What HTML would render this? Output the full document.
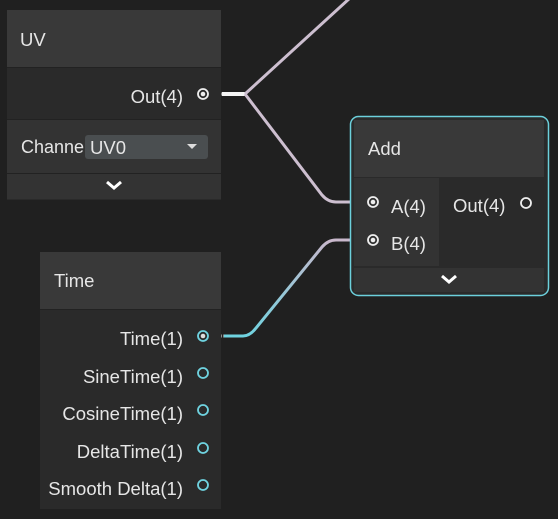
<!DOCTYPE html>
<html><head><meta charset="utf-8"><style>
html,body{margin:0;padding:0;background:#202020;}
svg{display:block;}
text{font-family:"Liberation Sans",sans-serif;font-size:18.5px;fill:#e6e6e6;}
</style></head><body>
<svg width="558" height="519" viewBox="0 0 558 519">
<defs>
<linearGradient id="g" x1="245" y1="336" x2="330" y2="240" gradientUnits="userSpaceOnUse">
<stop offset="0" stop-color="#6fd3e0"/><stop offset="1" stop-color="#c9b8cc"/>
</linearGradient>
</defs>
<rect width="558" height="519" fill="#202020"/>

<!-- wires -->
<path d="M213 94 H222" stroke="#8a8a8a" stroke-width="3" stroke-dasharray="1 1"/>
<path d="M222 94 H245" stroke="#f4f4f4" stroke-width="4"/>
<path d="M245 94 L350 -2" stroke="#cdbfd0" stroke-width="3" fill="none"/>
<path d="M245 94 L322 195 Q328 202 336 202 H350" stroke="#cdbfd0" stroke-width="3" fill="none"/>
<path d="M224 336 H243 Q250 336 256 328 L322 247 Q328 240 336 240 H350" stroke="url(#g)" stroke-width="3" fill="none"/>
<path d="M213 336 H224" stroke="#8a8a8a" stroke-width="3" stroke-dasharray="1 1"/>

<!-- UV node -->
<rect x="7" y="10" width="214" height="190" fill="#2a2a2a"/>
<rect x="7" y="10" width="214" height="57" fill="#393939"/>
<rect x="7" y="68" width="214" height="51" fill="#2a2a2a"/>
<rect x="7" y="120" width="214" height="53" fill="#333"/>
<rect x="7" y="174" width="214" height="25" fill="#333"/>
<line x1="7" y1="67.5" x2="221" y2="67.5" stroke="#222"/>
<line x1="7" y1="119.5" x2="221" y2="119.5" stroke="#222"/>
<line x1="7" y1="173.5" x2="221" y2="173.5" stroke="#222"/>
<text x="20" y="46">UV</text>
<text x="183" y="103" text-anchor="end">Out(4)</text>
<circle cx="203" cy="94" r="5" fill="none" stroke="#eee" stroke-width="1.8"/>
<circle cx="203" cy="94" r="2.3" fill="#eee"/>
<text x="21" y="153" textLength="63" lengthAdjust="spacingAndGlyphs">Channe</text>
<rect x="85" y="135" width="123" height="24" rx="3" fill="#4a4e50"/>
<text x="90" y="154">UV0</text>
<path d="M187 144 h10 l-5 5 z" fill="#ddd"/>
<path d="M107 182 l7 6 l7 -6" stroke="#fff" stroke-width="3" fill="none"/>

<!-- Add node -->
<rect x="350.5" y="116.5" width="198" height="179" rx="8" fill="#2a2a2a" stroke="#6cd0dc" stroke-width="1.5"/>
<rect x="354" y="120" width="190" height="57" fill="#393939"/>
<rect x="354" y="178" width="85" height="88" fill="#333"/>
<rect x="441" y="178" width="103" height="88" fill="#2a2a2a"/>
<rect x="354" y="268" width="190" height="24" fill="#333"/>
<text x="368" y="155">Add</text>
<circle cx="373" cy="202" r="5" fill="none" stroke="#eee" stroke-width="1.8"/>
<circle cx="373" cy="202" r="2.3" fill="#eee"/>
<text x="391" y="213">A(4)</text>
<circle cx="373" cy="240" r="5" fill="none" stroke="#eee" stroke-width="1.8"/>
<circle cx="373" cy="240" r="2.3" fill="#eee"/>
<text x="391" y="250">B(4)</text>
<text x="453" y="212">Out(4)</text>
<circle cx="526" cy="203" r="5" fill="none" stroke="#eee" stroke-width="1.8"/>
<path d="M442 276 l7 6 l7 -6" stroke="#fff" stroke-width="3" fill="none"/>

<!-- Time node -->
<rect x="40" y="252" width="181" height="257" fill="#2a2a2a"/>
<rect x="40" y="252" width="181" height="57" fill="#393939"/>
<line x1="40" y1="309.5" x2="221" y2="309.5" stroke="#222"/>
<text x="54" y="287">Time</text>
<g text-anchor="end">
<text x="183" y="345">Time(1)</text>
<text x="183" y="383">SineTime(1)</text>
<text x="183" y="420">CosineTime(1)</text>
<text x="183" y="458">DeltaTime(1)</text>
<text x="183" y="495">Smooth Delta(1)</text>
</g>
<circle cx="203" cy="336" r="5" fill="none" stroke="#6fd3e0" stroke-width="1.8"/>
<circle cx="203" cy="336" r="2.3" fill="#ddd"/>
<circle cx="203" cy="373" r="5" fill="none" stroke="#6fd3e0" stroke-width="1.8"/>
<circle cx="203" cy="410" r="5" fill="none" stroke="#6fd3e0" stroke-width="1.8"/>
<circle cx="203" cy="448" r="5" fill="none" stroke="#6fd3e0" stroke-width="1.8"/>
<circle cx="203" cy="485" r="5" fill="none" stroke="#6fd3e0" stroke-width="1.8"/>
</svg>
</body></html>
